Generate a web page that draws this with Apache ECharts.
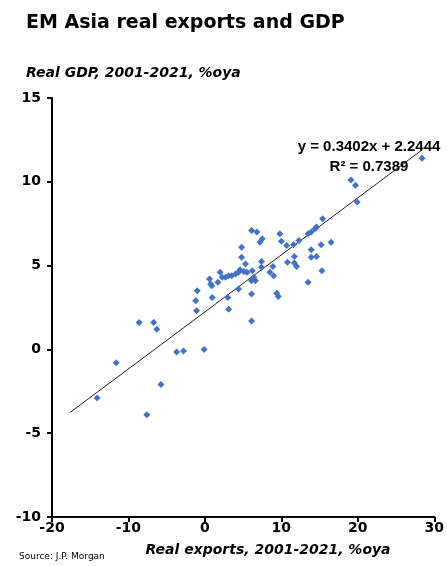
<!DOCTYPE html>
<html style="height: 100%">
  <head>
    <meta charset="utf-8">
  </head>
  <body style="height: 100%; margin: 0; background: #fff">
    <div id="container" style="width: 447px; height: 566px"></div>
    <script type="text/javascript" src="https://cdn.jsdelivr.net/npm/echarts@6/dist/echarts.min.js"></script>
    <script type="text/javascript">
      // real exports growth (x) and real GDP growth (y), %oya
      let exportsGrowth = [
        -14.1, -11.6, -8.6, -6.7, -6.3, -5.75, -7.6, -3.7, -2.8, -0.1,
        -1.2, -1.1, -1.0, 0.6, 0.75, 0.9, 0.95, 1.7, 2.0, 2.25,
        2.7, 3.1, 3.5, 4.0, 4.4, 4.6, 5.1, 5.5, 3.0, 3.1,
        4.4, 4.8, 5.3, 4.8, 6.1, 6.8, 7.5, 7.2, 6.2, 6.6,
        6.1, 6.4, 6.1, 6.1, 7.4, 7.4, 8.9, 8.5, 9.0, 9.4,
        9.6, 9.8, 10.0, 10.7, 11.6, 12.3, 13.5, 13.9, 14.4, 14.6,
        15.4, 16.5, 15.2, 13.9, 13.9, 14.6, 15.3, 13.5, 10.8, 11.7,
        11.7, 12.0, 19.1, 19.7, 19.9, 28.4
      ];
      let gdpGrowth = [
        -2.9, -0.8, 1.6, 1.6, 1.2, -2.1, -3.9, -0.15, -0.1, 0.0,
        2.9, 2.3, 3.5, 4.2, 3.9, 3.8, 3.1, 4.0, 4.6, 4.3,
        4.3, 4.4, 4.4, 4.5, 4.6, 4.75, 4.65, 4.6, 3.1, 2.4,
        3.6, 5.5, 5.1, 6.1, 7.1, 7.0, 6.6, 6.4, 4.7, 4.1,
        4.1, 4.3, 3.3, 1.7, 5.25, 4.9, 4.95, 4.6, 4.4, 3.35,
        3.15, 6.9, 6.45, 6.2, 6.25, 6.5, 6.9, 7.0, 7.2, 7.3,
        7.8, 6.4, 6.25, 5.95, 5.5, 5.55, 4.7, 4.0, 5.2, 5.55,
        5.15, 4.95, 10.1, 9.8, 8.8, 11.4
      ];
      // trend line end points
      let trendX = [-17.6, 28.4];
      let trendY = [-3.75, 11.9];
      let xTicks = [-20, 30, 10];
      let yTicks = [-10, 15, 5];

      let points = exportsGrowth.map(function (x, i) { return [x, gdpGrowth[i]]; });
      let trend = trendX.map(function (x, i) { return [x, trendY[i]]; });

      let font = '"DejaVu Sans", sans-serif';
      let eqFont = '"Liberation Sans", Arial, sans-serif';
      let myChart = echarts.init(document.getElementById('container'));

      let option = {
        animation: false,
        title: [{
          text: 'EM Asia real exports and GDP',
          left: 21, top: 9,
          textStyle: { fontFamily: font, fontSize: 19, fontWeight: 'bold', color: '#000' }
        }, {
          text: 'Real GDP, 2001-2021, %oya',
          left: 21, top: 61,
          textStyle: { fontFamily: font, fontSize: 14, fontWeight: 'bold', fontStyle: 'italic', color: '#000' }
        }, {
          text: 'Source: J.P. Morgan',
          left: 14, top: 547,
          textStyle: { fontFamily: font, fontSize: 9, fontWeight: 'normal', color: '#000' }
        }, {
          text: 'Real exports, 2001-2021, %oya',
          left: 263, top: 538, textAlign: 'center',
          textStyle: { fontFamily: font, fontSize: 14, fontWeight: 'bold', fontStyle: 'italic', color: '#000' }
        }, {
          text: 'y = 0.3402x + 2.2444\nR² = 0.7389',
          left: 364, top: 132, textAlign: 'center',
          textStyle: { fontFamily: eqFont, fontSize: 15, fontWeight: 'bold', color: '#000', lineHeight: 20, align: 'center' }
        }],
        grid: { left: 52, right: 10, top: 98, bottom: 49 },
        xAxis: {
          type: 'value',
          min: xTicks[0], max: xTicks[1], interval: xTicks[2],
          splitLine: { show: false },
          axisLine: { show: true, onZero: false, lineStyle: { color: '#000', width: 2 } },
          axisTick: { show: true, length: 5, lineStyle: { color: '#000', width: 2 } },
          axisLabel: { margin: 4, fontFamily: font, fontSize: 14, fontWeight: 'bold', color: '#000' }
        },
        yAxis: {
          type: 'value',
          min: yTicks[0], max: yTicks[1], interval: yTicks[2],
          splitLine: { show: false },
          axisLine: { show: true, onZero: false, lineStyle: { color: '#000', width: 2 } },
          axisTick: { show: true, length: 5, lineStyle: { color: '#000', width: 2 } },
          axisLabel: { margin: 11, fontFamily: font, fontSize: 14, fontWeight: 'bold', color: '#000' }
        },
        series: [{
          type: 'line',
          data: trend,
          symbol: 'none',
          lineStyle: { color: '#222', width: 1 },
          z: 3
        }, {
          type: 'scatter',
          data: points,
          symbol: 'diamond',
          symbolSize: 7,
          itemStyle: { color: '#4472C4', opacity: 1 },
          z: 4
        }]
      };
      myChart.setOption(option);
    </script>
  </body>
</html>
